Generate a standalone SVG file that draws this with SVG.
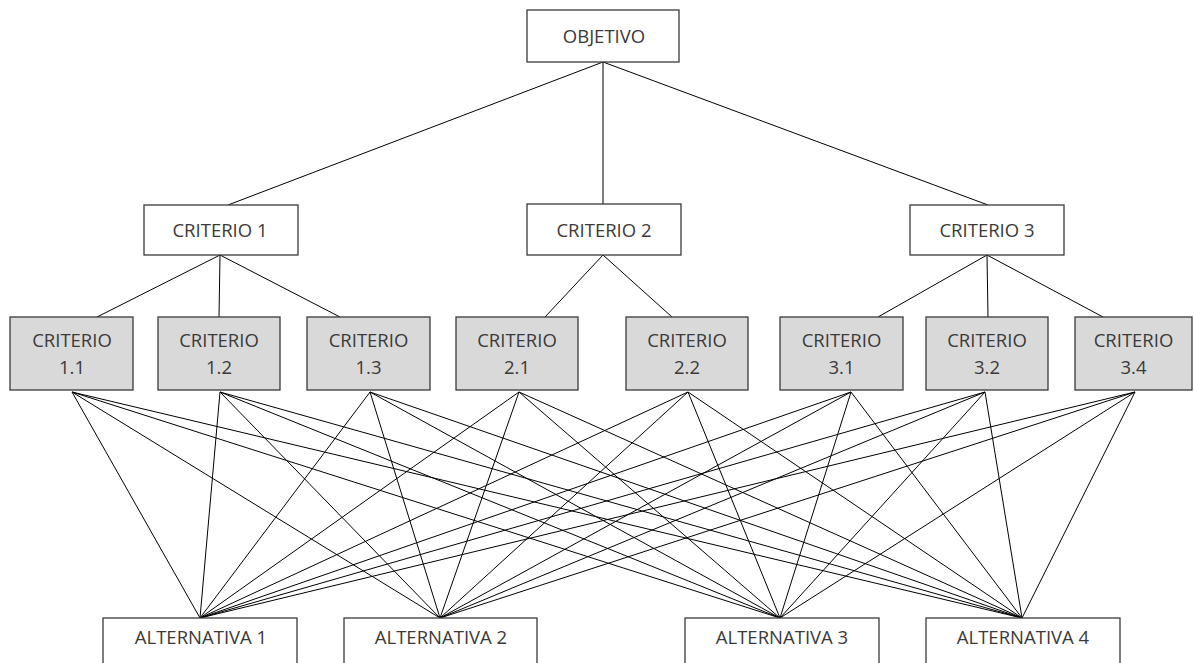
<svg xmlns="http://www.w3.org/2000/svg" width="1194" height="663" viewBox="0 0 1194 663">
<style>
.b{fill:#fff;stroke:#3a3a3a;stroke-width:1.3}
.g{fill:#d9d9d9;stroke:#3a3a3a;stroke-width:1.3}
.t{font-family:"Open Sans","Liberation Sans",sans-serif;font-size:18.5px;fill:#3a3a3a;text-anchor:middle}
.c line{stroke:#000;stroke-width:1}
</style>
<rect width="1194" height="663" fill="#fff"/>
<g class="c" id="connectors">
<line x1="603" y1="62" x2="228" y2="205"/>
<line x1="603" y1="62" x2="603" y2="204"/>
<line x1="603" y1="62" x2="988" y2="205"/>
<line x1="220" y1="255" x2="97" y2="317"/>
<line x1="220" y1="255" x2="219" y2="317"/>
<line x1="220" y1="255" x2="340" y2="317"/>
<line x1="603" y1="255" x2="545" y2="317"/>
<line x1="603" y1="255" x2="672" y2="317"/>
<line x1="987" y1="255" x2="878" y2="317"/>
<line x1="987" y1="255" x2="988" y2="317"/>
<line x1="987" y1="255" x2="1103" y2="317"/>
<line x1="72" y1="392" x2="200" y2="618"/><line x1="72" y1="392" x2="440" y2="618"/><line x1="72" y1="392" x2="780" y2="618"/><line x1="72" y1="392" x2="1022" y2="618"/>
<line x1="220" y1="392" x2="200" y2="618"/><line x1="220" y1="392" x2="440" y2="618"/><line x1="220" y1="392" x2="780" y2="618"/><line x1="220" y1="392" x2="1022" y2="618"/>
<line x1="370" y1="392" x2="200" y2="618"/><line x1="370" y1="392" x2="440" y2="618"/><line x1="370" y1="392" x2="780" y2="618"/><line x1="370" y1="392" x2="1022" y2="618"/>
<line x1="519" y1="392" x2="200" y2="618"/><line x1="519" y1="392" x2="440" y2="618"/><line x1="519" y1="392" x2="780" y2="618"/><line x1="519" y1="392" x2="1022" y2="618"/>
<line x1="688" y1="392" x2="200" y2="618"/><line x1="688" y1="392" x2="440" y2="618"/><line x1="688" y1="392" x2="780" y2="618"/><line x1="688" y1="392" x2="1022" y2="618"/>
<line x1="851" y1="392" x2="200" y2="618"/><line x1="851" y1="392" x2="440" y2="618"/><line x1="851" y1="392" x2="780" y2="618"/><line x1="851" y1="392" x2="1022" y2="618"/>
<line x1="985" y1="392" x2="200" y2="618"/><line x1="985" y1="392" x2="440" y2="618"/><line x1="985" y1="392" x2="780" y2="618"/><line x1="985" y1="392" x2="1022" y2="618"/>
<line x1="1135" y1="392" x2="200" y2="618"/><line x1="1135" y1="392" x2="440" y2="618"/><line x1="1135" y1="392" x2="780" y2="618"/><line x1="1135" y1="392" x2="1022" y2="618"/>
</g>
<g id="objetivo"><rect class="b" x="527" y="10" width="152" height="52"/><text class="t" x="604" y="43">OBJETIVO</text></g>
<g id="criterio1"><rect class="b" x="144" y="205" width="154" height="50"/><text class="t" x="220" y="237">CRITERIO 1</text></g>
<g id="criterio2"><rect class="b" x="527" y="204" width="154" height="51"/><text class="t" x="604" y="237">CRITERIO 2</text></g>
<g id="criterio3"><rect class="b" x="910" y="205" width="154" height="50"/><text class="t" x="987" y="237">CRITERIO 3</text></g>
<g id="c11"><rect class="g" x="10" y="317" width="123" height="73"/><text class="t" x="72" y="347">CRITERIO</text><text class="t" x="72" y="374">1.1</text></g>
<g id="c12"><rect class="g" x="158" y="317" width="122" height="73"/><text class="t" x="219" y="347">CRITERIO</text><text class="t" x="219" y="374">1.2</text></g>
<g id="c13"><rect class="g" x="307" y="317" width="123" height="73"/><text class="t" x="368.5" y="347">CRITERIO</text><text class="t" x="368.5" y="374">1.3</text></g>
<g id="c21"><rect class="g" x="456" y="317" width="122" height="73"/><text class="t" x="517" y="347">CRITERIO</text><text class="t" x="517" y="374">2.1</text></g>
<g id="c22"><rect class="g" x="626" y="317" width="122" height="73"/><text class="t" x="687" y="347">CRITERIO</text><text class="t" x="687" y="374">2.2</text></g>
<g id="c31"><rect class="g" x="780" y="317" width="123" height="73"/><text class="t" x="841.5" y="347">CRITERIO</text><text class="t" x="841.5" y="374">3.1</text></g>
<g id="c32"><rect class="g" x="926" y="317" width="122" height="73"/><text class="t" x="987" y="347">CRITERIO</text><text class="t" x="987" y="374">3.2</text></g>
<g id="c34"><rect class="g" x="1075" y="317" width="117" height="73"/><text class="t" x="1133.5" y="347">CRITERIO</text><text class="t" x="1133.5" y="374">3.4</text></g>
<g id="alt1"><rect class="b" x="103" y="618" width="194" height="60"/><text class="t" x="201" y="644">ALTERNATIVA 1</text></g>
<g id="alt2"><rect class="b" x="344" y="618" width="193" height="60"/><text class="t" x="441" y="644">ALTERNATIVA 2</text></g>
<g id="alt3"><rect class="b" x="685" y="618" width="194" height="60"/><text class="t" x="782" y="644">ALTERNATIVA 3</text></g>
<g id="alt4"><rect class="b" x="926" y="618" width="194" height="60"/><text class="t" x="1023" y="644">ALTERNATIVA 4</text></g>
</svg>
